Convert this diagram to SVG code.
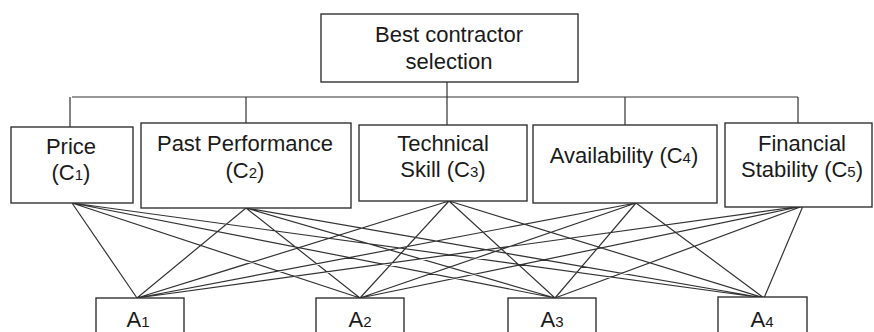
<svg xmlns="http://www.w3.org/2000/svg" width="874" height="332" viewBox="0 0 874 332">
<style>
.box{fill:#fff;stroke:#333;stroke-width:1.4}
.ln{stroke:#333;stroke-width:1.2;fill:none}
.t{font-family:"Liberation Sans",Arial,sans-serif;font-size:22px;fill:#1a1a1a;text-anchor:middle}
.s{font-size:15px}
</style>
<rect width="874" height="332" fill="#fff"/>
<g id="connectors">
<path class="ln" d="M447 82V125M72 97H798M70 97V127M246 97V123M625 97V125M798 97V123"/>
<path class="ln" d="M72 203L137 298M72 203L360 298M72 203L555 298M72 203L764 298
M246 208L137 298M246 208L360 298M246 208L555 298M246 208L764 298
M449 201L137 298M449 201L360 298M449 201L555 298M449 201L764 298
M636 203L137 298M636 203L360 298M636 203L555 298M636 203L764 298
M803 206L137 298M803 206L360 298M803 206L555 298M803 206L764 298"/>
</g>
<g id="goal">
<rect class="box" x="321" y="14" width="257" height="68"/>
<text class="t" x="449" y="42">Best contractor</text>
<text class="t" x="449" y="69">selection</text>
</g>
<g id="c1">
<rect class="box" x="11" y="127" width="122" height="76"/>
<text class="t" x="71" y="154">Price</text>
<text class="t" x="71" y="180">(C<tspan class="s">1</tspan>)</text>
</g>
<g id="c2">
<rect class="box" x="141" y="123" width="210" height="85"/>
<text class="t" x="245" y="151">Past Performance</text>
<text class="t" x="245" y="178">(C<tspan class="s">2</tspan>)</text>
</g>
<g id="c3">
<rect class="box" x="359" y="125" width="168" height="76"/>
<text class="t" x="443" y="151">Technical</text>
<text class="t" x="443" y="177">Skill (C<tspan class="s">3</tspan>)</text>
</g>
<g id="c4">
<rect class="box" x="533" y="125" width="184" height="78"/>
<text class="t" x="624" y="163">Availability (C<tspan class="s">4</tspan>)</text>
</g>
<g id="c5">
<rect class="box" x="725" y="123" width="147" height="84"/>
<text class="t" x="802" y="151">Financial</text>
<text class="t" x="802" y="177">Stability (C<tspan class="s">5</tspan>)</text>
</g>
<g id="a1">
<rect class="box" x="96" y="298" width="88" height="50"/>
<text class="t" x="138" y="327">A<tspan class="s">1</tspan></text>
</g>
<g id="a2">
<rect class="box" x="316" y="298" width="88" height="50"/>
<text class="t" x="360" y="327">A<tspan class="s">2</tspan></text>
</g>
<g id="a3">
<rect class="box" x="508" y="298" width="88" height="50"/>
<text class="t" x="552" y="327">A<tspan class="s">3</tspan></text>
</g>
<g id="a4">
<rect class="box" x="718" y="297" width="89" height="50"/>
<text class="t" x="762" y="327">A<tspan class="s">4</tspan></text>
</g>
</svg>
